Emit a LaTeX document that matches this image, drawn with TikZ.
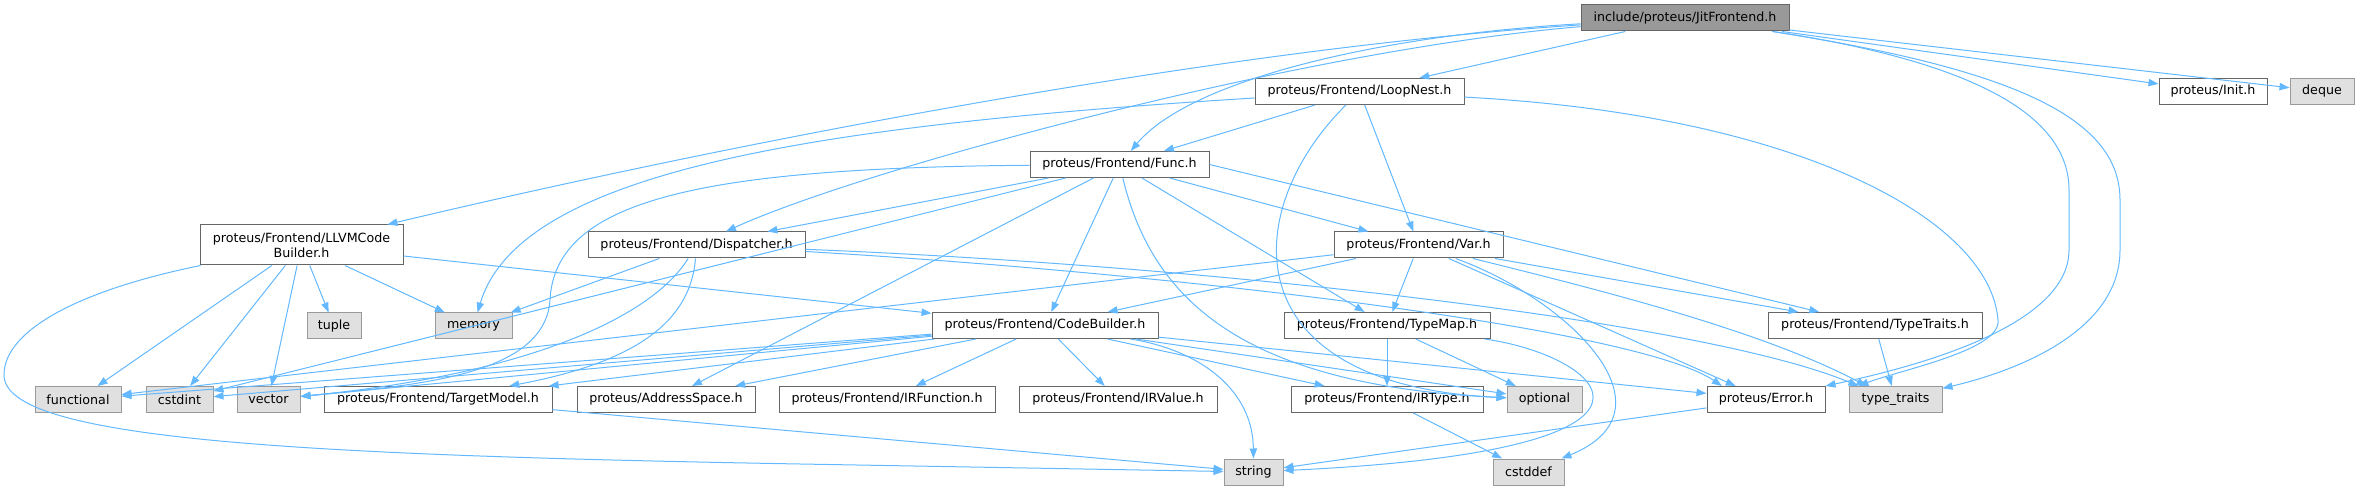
\documentclass[tikz,border=0pt]{standalone}
\usepackage{fontspec}
\setmainfont{DejaVu Sans}
\usetikzlibrary{arrows.meta}
\definecolor{edgeblue}{HTML}{63B8FF}
\definecolor{boxline}{HTML}{666666}
\definecolor{sysline}{HTML}{999999}
\definecolor{sysfill}{HTML}{E0E0E0}
\definecolor{mainfill}{HTML}{999999}
\begin{document}
\begin{tikzpicture}[x=0.75pt,y=-0.75pt,
    hdr/.style={draw=boxline,line width=0.75pt,fill=white,inner sep=0pt,
      minimum height=19.5pt,font=\fontsize{9.5}{11.25}\selectfont},
    sys/.style={hdr,draw=sysline,fill=sysfill},
    mainhdr/.style={hdr,fill=mainfill},
    bw/.style={minimum width=#1*0.75pt},
    dep/.style={draw=edgeblue,line width=0.75pt,
      -{Triangle[length=7.5pt,width=5.5pt]}}]
      \useasboundingbox (0,0) rectangle (2359,491);
      \draw
        (1685,18) node[mainhdr,bw=208] (jit){include/proteus/JitFrontend.h}
        (1359.5,91.5) node[hdr,bw=209] (loopnest){proteus/Frontend/LoopNest.h}
        (2213,91.5) node[hdr,bw=108] (init){proteus/Init.h}
        (2322,91.5) node[sys,bw=64] (deque){deque}
        (1119.5,164.5) node[hdr,bw=179] (func){proteus/Frontend/Func.h}
        (301.5,245) node[hdr,bw=203,minimum height=30pt,align=center] (llvm){proteus/Frontend/LLVMCode\\Builder.h}
        (696.5,245) node[hdr,bw=217] (dispatcher){proteus/Frontend/Dispatcher.h}
        (1418.5,245) node[hdr,bw=169] (var){proteus/Frontend/Var.h}
        (334,326) node[sys,bw=54] (tuple){tuple}
        (473.5,326) node[sys,bw=77] (memory){memory}
        (1045,325.5) node[hdr,bw=226] (codebuilder){proteus/Frontend/CodeBuilder.h}
        (1387,325.5) node[hdr,bw=206] (typemap){proteus/Frontend/TypeMap.h}
        (1875,325.5) node[hdr,bw=214] (typetraits){proteus/Frontend/TypeTraits.h}
        (78,399.5) node[sys,bw=86] (functional){functional}
        (179.5,399.5) node[sys,bw=67] (cstdint){cstdint}
        (268.5,399.5) node[sys,bw=63] (vector){vector}
        (438,399.5) node[hdr,bw=228] (targetmodel){proteus/Frontend/TargetModel.h}
        (666,399.5) node[hdr,bw=178] (addrspace){proteus/AddressSpace.h}
        (887,399.5) node[hdr,bw=216] (irfunction){proteus/Frontend/IRFunction.h}
        (1118,399.5) node[hdr,bw=198] (irvalue){proteus/Frontend/IRValue.h}
        (1387,399.5) node[hdr,bw=192] (irtype){proteus/Frontend/IRType.h}
        (1544.5,399.5) node[sys,bw=75] (optional){optional}
        (1766,399.5) node[hdr,bw=118] (error){proteus/Error.h}
        (1895.5,399.5) node[sys,bw=93] (ttstd){type\_traits}
        (1253.5,472) node[sys,bw=59] (string){string}
        (1528.5,472) node[sys,bw=71] (cstddef){cstddef};
      \begin{scope}[dep]
        \draw (jit) .. controls (1200,50) and (700,150) .. (llvm);
        \draw (jit) .. controls (1300,50) and (860,170) .. (dispatcher);
        \draw (jit) .. controls (1380,35) and (1190,80) .. (func);
        \draw (jit) to (loopnest);
        \draw (jit) to (init);
        \draw (jit) to (deque);
        \draw (jit) .. controls (1960,60) and (2069,110) .. (2069,190) -- (2069,250)
          .. controls (2069,330) and (1900,370) .. (error.north east);
        \draw (jit) .. controls (2020,70) and (2120,120) .. (2120,200) -- (2120,250)
          .. controls (2120,330) and (2020,370) .. (ttstd);
        \draw (loopnest) .. controls (820,125) and (520,170) .. (memory);
        \draw (loopnest) to (func);
        \draw (loopnest) to (var);
        \draw (loopnest) .. controls (1240,210) and (1230,385) .. (optional);
        \draw (loopnest) .. controls (1800,115) and (1990,220) .. (1998,320)
          .. controls (2002,350) and (1900,370) .. (ttstd.160);
        \draw (func) to (dispatcher);
        \draw (func) .. controls (700,168) and (555,200) .. (550,300)
          .. controls (545,375) and (420,385) .. (vector);
        \draw (func) to (cstdint);
        \draw (func) to (addrspace);
        \draw (func) to (codebuilder);
        \draw (func) .. controls (1150,290) and (1230,385) .. (optional);
        \draw (func) to (typemap);
        \draw (func) to (var);
        \draw (func.east) to (typetraits);
        \draw (llvm) .. controls (80,290) and (4,330) .. (4,375)
          .. controls (4,440) and (300,455) .. (800,464) -- (string);
        \draw (llvm) to (functional);
        \draw (llvm) to (cstdint);
        \draw (llvm) to (vector);
        \draw (llvm) to (tuple);
        \draw (llvm) to (memory);
        \draw (llvm) to (codebuilder);
        \draw (dispatcher) to (memory);
        \draw (dispatcher) .. controls (650,320) and (520,375) .. (vector);
        \draw (dispatcher) .. controls (690,330) and (620,365) .. (targetmodel);
        \draw (dispatcher) .. controls (1200,275) and (1640,330) .. (error.163);
        \draw (dispatcher) .. controls (1200,265) and (1700,320) .. (ttstd.160);
        \draw (var) to (functional);
        \draw (var) to (codebuilder);
        \draw (var) to (typemap);
        \draw (var) to (typetraits);
        \draw (var) to (error);
        \draw (var) .. controls (1600,290) and (1760,330) .. (ttstd.155);
        \draw (var) .. controls (1570,300) and (1680,410) .. (cstddef);
        \draw (codebuilder) to (functional);
        \draw (codebuilder) to (cstdint);
        \draw (codebuilder) to (vector);
        \draw (codebuilder) to (targetmodel);
        \draw (codebuilder) to (addrspace);
        \draw (codebuilder) to (irfunction);
        \draw (codebuilder) to (irvalue);
        \draw (codebuilder) to (irtype);
        \draw (codebuilder) .. controls (1200,350) and (1253,390) .. (string);
        \draw (codebuilder) to (optional);
        \draw (codebuilder) to (error);
        \draw (typemap) to (irtype);
        \draw (typemap) to (optional);
        \draw (typemap) .. controls (1600,355) and (1720,450) .. (string);
        \draw (typetraits) to (ttstd);
        \draw (irtype) to (cstddef);
        \draw (targetmodel) to (string);
        \draw (error) to (string);
      \end{scope}
    \end{tikzpicture}
\end{document}
